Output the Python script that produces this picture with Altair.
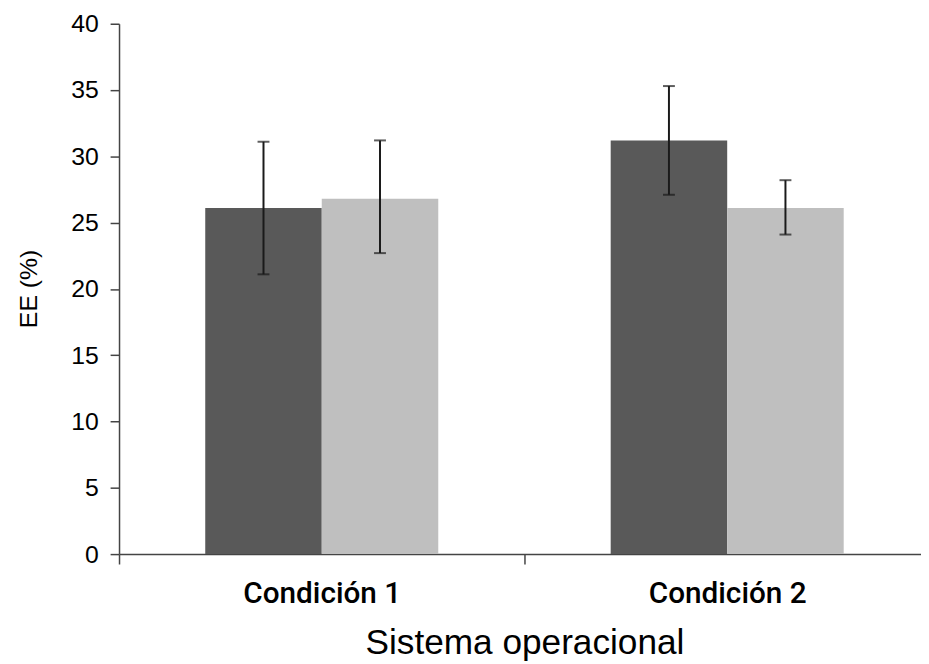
import altair as alt
import pandas as pd

categories = ["Condición 1", "Condición 2"]
series = ["Serie A", "Serie B"]
values_a = [26.1, 31.2]
values_b = [26.8, 26.1]
upper_a = [31.1, 35.3]
upper_b = [31.2, 28.2]
lower_a = [21.1, 27.1]
lower_b = [22.7, 24.1]
y_ticks = [0, 5, 10, 15, 20, 25, 30, 35, 40]

rows = []
for i, c in enumerate(categories):
    rows.append({"cat": c, "serie": series[0], "v": values_a[i], "lo": lower_a[i], "hi": upper_a[i]})
    rows.append({"cat": c, "serie": series[1], "v": values_b[i], "lo": lower_b[i], "hi": upper_b[i]})
df = pd.DataFrame(rows)

xscale = alt.Scale(paddingInner=0, paddingOuter=0)
xenc = alt.X(
    "cat:N",
    sort=categories,
    scale=xscale,
    axis=alt.Axis(
        title="Sistema operacional",
        tickBand="extent",
        labelAngle=0,
        labelFont="Roboto",
        labelFontWeight=500,
        labelFontSize=30,
        labelColor="#000000",
        labelBaseline="alphabetic",
        labelPadding=39,
        tickSize=10,
        tickColor="#444444",
        tickWidth=1.5,
        domainColor="#444444",
        domainWidth=1.5,
        titleFont="Liberation Sans",
        titleFontSize=35.5,
        titleFontWeight="normal",
        titleColor="#000000",
        titleBaseline="alphabetic",
        titleX=409,
        titleY=100,
    ),
)
xoff = alt.XOffset("serie:N", sort=series, scale=alt.Scale(paddingInner=0, paddingOuter=0.74))
yscale = alt.Scale(domain=[0, 40], nice=False)

bars = alt.Chart(df).mark_bar().encode(
    x=xenc,
    xOffset=xoff,
    y=alt.Y(
        "v:Q",
        scale=yscale,
        axis=alt.Axis(
            title="EE (%)",
            values=y_ticks,
            labelFont="Liberation Sans",
            labelFontSize=25,
            labelColor="#000000",
            labelPadding=12,
            tickSize=9,
            tickColor="#444444",
            tickWidth=1.5,
            domainColor="#444444",
            domainWidth=1.5,
            titleFont="Liberation Sans",
            titleFontSize=25,
            titleFontWeight="normal",
            titleColor="#000000",
            titleX=-78,
            titleY=267,
            titleBaseline="bottom",
        ),
    ),
    color=alt.Color("serie:N", scale=alt.Scale(domain=series, range=["#595959", "#bfbfbf"]), legend=None),
)

rules = alt.Chart(df).mark_rule(color="#1a1a1a", strokeWidth=2).encode(
    x=alt.X("cat:N", sort=categories),
    xOffset=xoff,
    y=alt.Y("lo:Q", scale=yscale),
    y2="hi:Q",
)
caps_hi = alt.Chart(df).mark_tick(color="#1a1a1a", thickness=2, size=12).encode(
    x=alt.X("cat:N", sort=categories),
    xOffset=xoff,
    y=alt.Y("hi:Q", scale=yscale),
)
caps_lo = alt.Chart(df).mark_tick(color="#1a1a1a", thickness=2, size=12).encode(
    x=alt.X("cat:N", sort=categories),
    xOffset=xoff,
    y=alt.Y("lo:Q", scale=yscale),
)

chart = (
    alt.layer(bars, rules, caps_hi, caps_lo)
    .properties(
        width=818,
        height=535,
        autosize=alt.AutoSizeParams(type="none"),
        padding={"left": 112, "top": 13, "right": -9, "bottom": 108},
    )
    .configure_view(stroke=None)
    .configure_axis(grid=False)
)

chart.save("out.html", embed_options={"renderer": "svg", "actions": False})
